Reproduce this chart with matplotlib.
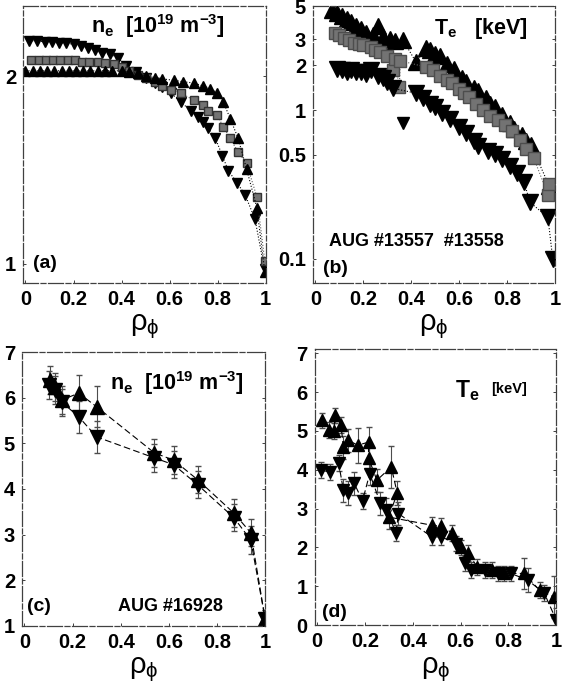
import matplotlib.pyplot as plt
from matplotlib.ticker import NullLocator

plt.rcParams['font.family'] = ['Liberation Sans', 'DejaVu Sans']
plt.rcParams['mathtext.fontset'] = 'custom'
plt.rcParams['mathtext.rm'] = 'Liberation Sans'
plt.rcParams['mathtext.bf'] = 'Liberation Sans:bold'
plt.rcParams['mathtext.it'] = 'Liberation Sans:italic'
plt.rcParams['mathtext.sf'] = 'Liberation Sans'

# ---- panel (a): n_e, AUG #13557/#13558 (log axis) ----
a_rho_dn = [0.016, 0.05, 0.08, 0.11, 0.14, 0.17, 0.20, 0.23, 0.26, 0.29, 0.32, 0.35, 0.385, 0.42,
            0.46, 0.50, 0.54, 0.57, 0.605, 0.646, 0.687, 0.716, 0.737, 0.761, 0.79, 0.82, 0.844,
            0.88, 0.914, 0.955, 0.995]
a_ne_dn = [2.28, 2.28, 2.27, 2.27, 2.26, 2.26, 2.25, 2.24, 2.22, 2.20, 2.18, 2.17, 2.14, 2.08,
           2.03, 1.99, 1.95, 1.92, 1.88, 1.82, 1.76, 1.72, 1.69, 1.65, 1.59, 1.49, 1.41,
           1.35, 1.29, 1.18, 0.98]

a_rho_sq = [0.025, 0.055, 0.085, 0.115, 0.145, 0.175, 0.205, 0.235, 0.265, 0.30, 0.33, 0.37,
            0.40, 0.43, 0.47, 0.50, 0.54, 0.57, 0.605, 0.646, 0.70, 0.737, 0.761, 0.798, 0.823,
            0.852, 0.885, 0.92, 0.963, 0.996]
a_ne_sq = [2.12, 2.12, 2.12, 2.12, 2.12, 2.12, 2.12, 2.11, 2.11, 2.11, 2.10, 2.09,
           2.07, 2.04, 2.01, 1.99, 1.96, 1.93, 1.90, 1.88, 1.83, 1.80, 1.76, 1.73, 1.66,
           1.59, 1.51, 1.45, 1.28, 1.01]

a_rho_up = [0.0, 0.03, 0.06, 0.09, 0.12, 0.15, 0.18, 0.21, 0.24, 0.27, 0.30, 0.33, 0.36, 0.40,
            0.43, 0.47, 0.50, 0.54, 0.57, 0.617, 0.654, 0.70, 0.737, 0.77, 0.798, 0.823, 0.852,
            0.885, 0.92, 0.963, 0.996]
a_ne_up = [2.04, 2.04, 2.04, 2.04, 2.04, 2.04, 2.04, 2.04, 2.04, 2.04, 2.04, 2.04, 2.04, 2.04,
           2.03, 2.02, 2.00, 1.99, 1.98, 1.97, 1.96, 1.95, 1.93, 1.91, 1.88, 1.82, 1.71,
           1.59, 1.42, 1.23, 0.97]

# ---- panel (b): T_e, AUG #13557/#13558 (log axis) ----
b_rho_up = [0.07, 0.09, 0.11, 0.13, 0.15, 0.17, 0.19, 0.21, 0.24, 0.26, 0.28, 0.31, 0.33, 0.366,
            0.42, 0.46, 0.48, 0.50, 0.52, 0.55, 0.58, 0.61, 0.63, 0.66, 0.68, 0.71, 0.73, 0.75,
            0.78, 0.81, 0.83, 0.86, 0.88, 0.90, 0.975]
b_te_up = [4.7, 4.5, 4.3, 4.1, 3.9, 3.7, 3.5, 3.3, 3.2, 3.7, 3.1, 3.0, 2.9, 2.95,
           2.1, 2.6, 2.55, 2.4, 2.3, 2.05, 1.9, 1.65, 1.55, 1.4, 1.35, 1.2, 1.1, 1.05,
           0.93, 0.82, 0.75, 0.68, 0.62, 0.58, 0.31]

b_rho_sq = [0.08, 0.10, 0.12, 0.14, 0.16, 0.18, 0.20, 0.23, 0.25, 0.27, 0.30, 0.325, 0.33, 0.35,
            0.354, 0.46, 0.49, 0.52, 0.55, 0.57, 0.60, 0.62, 0.64, 0.67, 0.70, 0.73, 0.76,
            0.79, 0.82, 0.855, 0.88, 0.91, 0.97, 0.975]
b_te_sq = [3.3, 3.2, 3.05, 2.95, 2.85, 2.8, 2.75, 2.65, 2.55, 2.45, 2.3, 1.85, 2.2, 1.43,
           2.15, 1.95, 1.86, 1.7, 1.6, 1.52, 1.38, 1.3, 1.22, 1.1, 1.0, 0.92, 0.86,
           0.8, 0.72, 0.63, 0.55, 0.48, 0.27, 0.32]

b_rho_dn = [0.09, 0.11, 0.13, 0.15, 0.17, 0.19, 0.21, 0.23, 0.26, 0.28, 0.30, 0.325,
            0.42, 0.45, 0.48, 0.50, 0.53, 0.56, 0.60, 0.63, 0.66, 0.68, 0.72, 0.75, 0.78,
            0.81, 0.84, 0.87, 0.895, 0.97, 0.99]
b_te_dn = [1.9, 1.85, 1.8, 1.85, 1.8, 1.8, 1.75, 1.85, 1.7, 1.65, 1.55, 1.4,
           1.3, 1.2, 1.1, 1.05, 0.95, 0.87, 0.77, 0.7, 0.62, 0.57, 0.53, 0.51, 0.47,
           0.42, 0.38, 0.33, 0.24, 0.19, 0.10]
b_rho_out = [0.366]   # isolated low point
b_te_out = [0.82]

# ---- panel (c): n_e, AUG #16928 ----
c_rho_up = [0.107, 0.128, 0.156, 0.226, 0.30, 0.54, 0.62, 0.72, 0.87, 0.94, 1.0]
c_ne_up = [6.39, 6.23, 5.95, 6.10, 5.80, 4.79, 4.63, 4.20, 3.47, 3.04, 1.15]
c_err_up = [0.3, 0.3, 0.3, 0.4, 0.45, 0.3, 0.3, 0.3, 0.3, 0.3, 0.2]
c_rho_dn = [0.103, 0.128, 0.156, 0.226, 0.30, 0.54, 0.62, 0.72, 0.87, 0.94, 1.0]
c_ne_dn = [6.28, 6.17, 5.90, 5.58, 5.14, 4.68, 4.53, 4.09, 3.37, 2.88, 1.15]
c_err_dn = [0.3, 0.3, 0.3, 0.35, 0.35, 0.3, 0.3, 0.3, 0.3, 0.3, 0.2]

# ---- panel (d): T_e, AUG #16928 ----
d_rho_up = [0.02, 0.05, 0.07, 0.075, 0.10, 0.11, 0.13, 0.17, 0.215, 0.215, 0.25, 0.31, 0.335,
            0.30, 0.48, 0.52, 0.565, 0.60, 0.63, 0.67, 0.73, 0.78, 0.865, 0.93, 0.99]
d_te_up = [5.27, 5.02, 5.0, 5.4, 5.15, 4.58, 4.76, 4.63, 4.71, 4.3, 3.73, 4.07, 3.4,
           2.78, 2.57, 2.55, 2.37, 2.0, 1.85, 1.5, 1.42, 1.33, 1.33, 0.9, 0.72]
d_err_up = [0.2, 0.2, 0.2, 0.2, 0.2, 0.3, 0.3, 0.45, 0.4, 0.3, 0.3, 0.55, 0.3,
            0.3, 0.2, 0.2, 0.2, 0.2, 0.2, 0.2, 0.2, 0.2, 0.4, 0.2, 0.55]
d_rho_dn = [0.015, 0.055, 0.09, 0.11, 0.13, 0.155, 0.19, 0.22, 0.265, 0.29, 0.33, 0.34,
            0.48, 0.52, 0.58, 0.62, 0.645, 0.70, 0.755, 0.81, 0.88, 0.95, 1.0]
d_te_dn = [3.99, 3.94, 4.17, 3.47, 3.4, 3.65, 3.2, 3.9, 3.13, 2.96, 2.37, 2.87,
           2.27, 2.27, 2.1, 1.6, 1.42, 1.42, 1.33, 1.33, 1.16, 0.82, 0.13]
d_err_dn = [0.2, 0.2, 0.2, 0.3, 0.3, 0.3, 0.2, 0.3, 0.3, 0.3, 0.2, 0.3,
            0.2, 0.2, 0.2, 0.2, 0.2, 0.2, 0.2, 0.2, 0.3, 0.2, 0.3]

x_ticks = [0, 0.2, 0.4, 0.6, 0.8, 1]
x_labels = ['0', '0.2', '0.4', '0.6', '0.8', '1']


# Common look of each panel: broken frame, bold ticks, rho_phi label
def style(ax, yticks, ylabels):
    for s in ax.spines.values():
        s.set_linestyle((0, (12, 2, 4, 2)))
        s.set_linewidth(0.9)
        s.set_color('0.25')
    ax.set_xlim(-0.01, 1.0)
    ax.set_xticks(x_ticks)
    ax.set_xticklabels(x_labels, fontweight='bold', fontsize=14.5)
    ax.set_yticks(yticks)
    ax.set_yticklabels(ylabels, fontweight='bold', fontsize=14.5)
    ax.yaxis.set_minor_locator(NullLocator())
    ax.tick_params(direction='in', length=2.5, width=0.7, pad=5, right=True, colors='0.25',
                   labelcolor='black')
    ax.set_xlabel(r'$\mathrm{\rho_\phi}$', fontsize=21, labelpad=3)


fig = plt.figure(figsize=(5.63, 6.93), dpi=100)

# (a)
ax = fig.add_axes([0.041, 0.592, 0.431, 0.399])
ax.set_yscale('log')
ax.plot(a_rho_dn, a_ne_dn, ls=':', lw=0.8, color='k', marker='v', ms=6.5)
ax.plot(a_rho_sq, a_ne_sq, ls=':', lw=0.8, color='0.35', marker='s', ms=5.5, mfc='0.45', mec='0.2')
ax.plot(a_rho_up, a_ne_up, ls=':', lw=0.8, color='k', marker='^', ms=6.5)
ax.set_ylim(0.932, 2.59)
style(ax, [1, 2], ['1', '2'])
ax.text(0.28, 0.93, r'$\mathbf{n_e}$  $\mathbf{[10^{19}\ m^{-3}]}$', transform=ax.transAxes,
        fontsize=15.5, va='center')
ax.text(0.04, 0.07, '(a)', transform=ax.transAxes, fontsize=14, fontweight='bold', va='center')

# (b)
ax = fig.add_axes([0.556, 0.592, 0.430, 0.399])
ax.set_yscale('log')
ax.plot(b_rho_up, b_te_up, ls=':', lw=0.8, color='k', marker='^', ms=11)
ax.plot(b_rho_sq, b_te_sq, ls=':', lw=0.8, color='0.4', marker='s', ms=9, mfc='0.45', mec='0.3')
ax.plot(b_rho_dn, b_te_dn, ls=':', lw=0.8, color='k', marker='v', ms=11)
ax.plot(b_rho_out, b_te_out, ls='none', color='k', marker='v', ms=9)
ax.set_ylim(0.069, 5.0)
style(ax, [0.1, 0.5, 1, 2, 3, 5], ['0.1', '0.5', '1', '2', '3', '5'])
ax.text(0.50, 0.92, r'$\mathbf{T_e}$   $\mathbf{[keV]}$', transform=ax.transAxes,
        fontsize=15.5, va='center')
ax.text(0.065, 0.15, 'AUG #13557  #13558', transform=ax.transAxes, fontsize=13,
        fontweight='bold', va='center')
ax.text(0.04, 0.05, '(b)', transform=ax.transAxes, fontsize=14, fontweight='bold', va='center')

# (c)
ax = fig.add_axes([0.039, 0.097, 0.432, 0.395])
ax.errorbar(c_rho_up, c_ne_up, yerr=c_err_up, fmt='^', ls=(0, (6, 3)), lw=0.8, color='k',
            ms=10, ecolor='0.3', elinewidth=0.8, capsize=2)
ax.errorbar(c_rho_dn, c_ne_dn, yerr=c_err_dn, fmt='v', ls=(0, (6, 3)), lw=0.8, color='k',
            ms=10, ecolor='0.3', elinewidth=0.8, capsize=2)
ax.set_ylim(1, 7)
style(ax, [1, 2, 3, 4, 5, 6, 7], ['1', '2', '3', '4', '5', '6', '7'])
ax.text(0.36, 0.887, r'$\mathbf{n_e}$  $\mathbf{[10^{19}\ m^{-3}]}$', transform=ax.transAxes,
        fontsize=15.5, va='center')
ax.text(0.02, 0.07, '(c)', transform=ax.transAxes, fontsize=14, fontweight='bold', va='center')
ax.text(0.395, 0.07, 'AUG #16928', transform=ax.transAxes, fontsize=13, fontweight='bold',
        va='center')

# (d)
ax = fig.add_axes([0.559, 0.098, 0.429, 0.398])
ax.errorbar(d_rho_up, d_te_up, yerr=d_err_up, fmt='^', ls=(0, (6, 3)), lw=0.8, color='k',
            ms=9, ecolor='0.3', elinewidth=0.8, capsize=2)
ax.errorbar(d_rho_dn, d_te_dn, yerr=d_err_dn, fmt='v', ls=(0, (6, 3)), lw=0.8, color='k',
            ms=9, ecolor='0.3', elinewidth=0.8, capsize=2)
ax.set_ylim(0, 7.1)
style(ax, [0, 1, 2, 3, 4, 5, 6, 7], ['0', '1', '2', '3', '4', '5', '6', '7'])
ax.text(0.58, 0.85, r'$\mathbf{T_e}$', transform=ax.transAxes, fontsize=16.5, va='center')
ax.text(0.73, 0.855, '[keV]', transform=ax.transAxes, fontsize=10.5, fontweight='bold',
        va='center')
ax.text(0.03, 0.045, '(d)', transform=ax.transAxes, fontsize=14, fontweight='bold', va='center')

fig.savefig('out.png', dpi=100)
